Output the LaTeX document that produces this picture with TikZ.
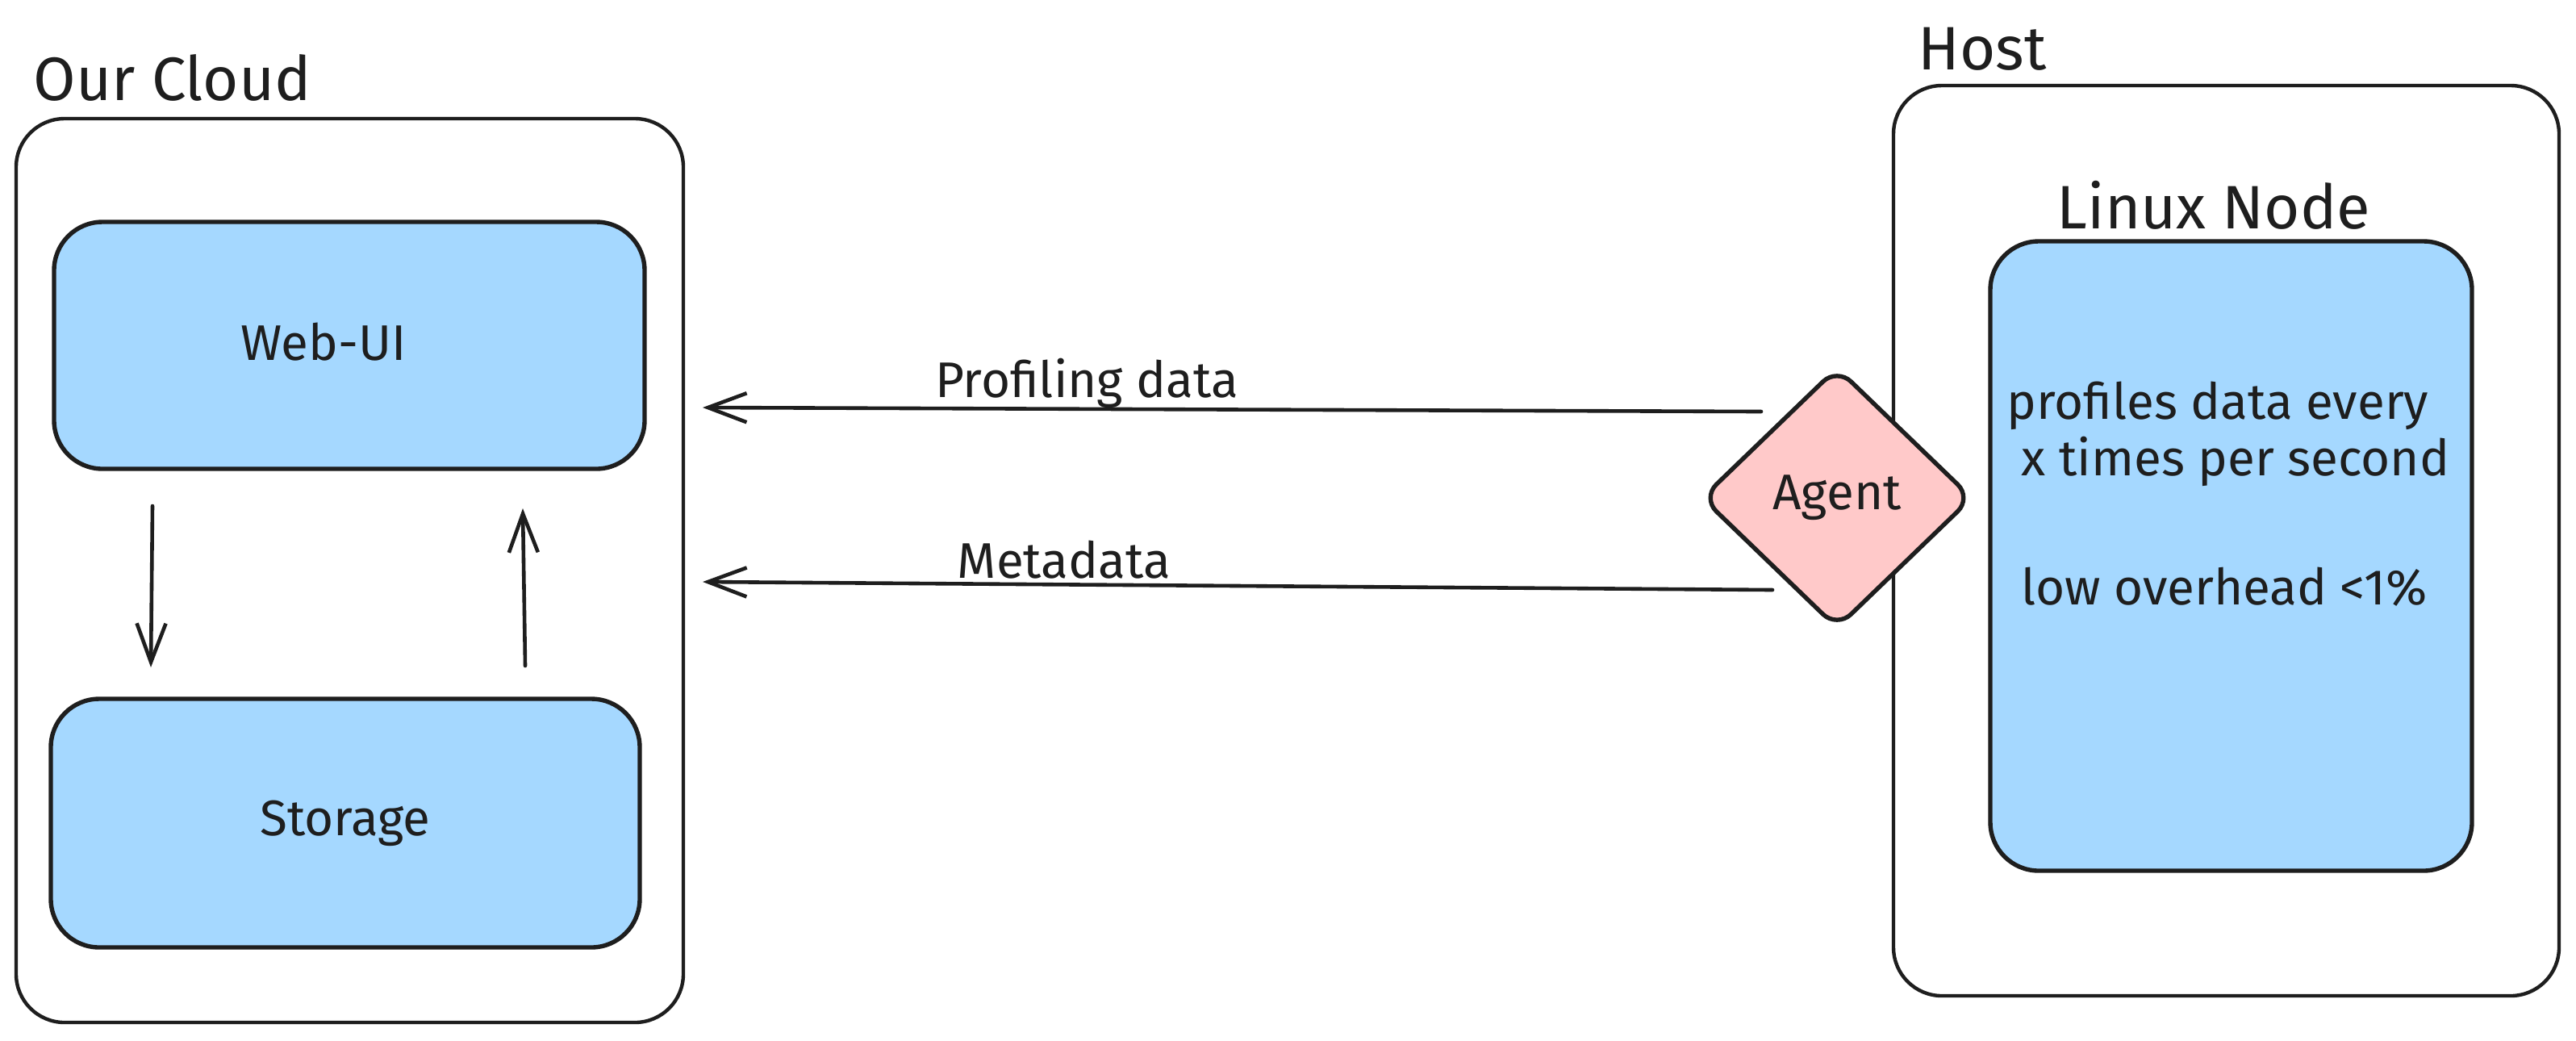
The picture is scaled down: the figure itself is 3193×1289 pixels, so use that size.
\documentclass[tikz,border=0pt]{standalone}
\usepackage{fontspec}
\setmainfont{Fira Sans}
\usetikzlibrary{arrows.meta,shapes.geometric}
\definecolor{ink}{HTML}{1E1E1E}
\definecolor{boxblue}{HTML}{A5D8FF}
\definecolor{agentpink}{HTML}{FFC9C9}
\begin{document}
\begin{tikzpicture}[x=0.25pt,y=-0.25pt,
  container/.style={draw=ink,line width=1.1pt,rounded corners=15pt,fill=white,inner sep=0pt},
  bluebox/.style={draw=ink,line width=1.35pt,rounded corners=15pt,fill=boxblue,text=ink,inner sep=0pt,font=\fontsize{15.5}{18}\selectfont},
  titletext/.style={text=ink,font=\fontsize{19}{22}\selectfont,inner sep=0pt},
  lbl/.style={text=ink,font=\fontsize{15.5}{18}\selectfont,inner sep=0pt},
  arr/.style={draw=ink,line width=1.15pt,line cap=round,-{Straight Barb[length=12pt,width=9pt,line width=1.15pt]}},
  agentshape/.style={shape=diamond,draw=ink,line width=1.35pt,rounded corners=6pt,fill=agentpink,text=ink,inner sep=0pt,font=\fontsize{15.5}{18}\selectfont}
  ]
\useasboundingbox[fill=white] (0,0) rectangle (3193,1289);

% Our Cloud
\node[titletext,anchor=base west] (cloudtitle) at (41,124) {Our Cloud};
\node[container,minimum width=206.75pt,minimum height=280pt] (cloud) at (433.5,707) {};
\node[bluebox,minimum width=183pt,minimum height=76.5pt] (webui) at (433,428) {};
\node[lbl] (webuitext) at (401,424) {Web-UI};
\node[bluebox,minimum width=182.5pt,minimum height=77pt] (storage) at (428,1020) {Storage};

\coordinate (downstart) at (189,627);
\coordinate (downend) at (187,827);
\coordinate (upstart) at (651,825);
\coordinate (upend) at (648,630);
\draw[arr] (downstart) -- (downend);
\draw[arr] (upstart) -- (upend);

% Host
\node[titletext,anchor=base west] (hosttitle) at (2377,86) {Host};
\node[container,minimum width=206.25pt,minimum height=282pt] (host) at (2759.5,670) {};
\node[titletext,anchor=base west] (linuxtitle) at (2549,283) {Linux Node};
\node[bluebox,minimum width=149.25pt,minimum height=195pt] (linux) at (2765.5,689) {};
\node[lbl] (desc1) at (2749,503) {profiles data every};
\node[lbl] (desc2) at (2771,572) {x times per second};
\node[lbl] (desc3) at (2757,727) {low overhead <1\%};

% Agent
\node[agentshape,minimum width=84pt,minimum height=81pt] (agent) at (2277,617) {Agent};

% Connectors
\coordinate (pdstart) at (2183,510);
\coordinate (pdend) at (871,505);
\coordinate (mdstart) at (2197,731);
\coordinate (mdend) at (871,721);
\draw[arr] (pdstart) -- (pdend);
\draw[arr] (mdstart) -- (mdend);
\node[lbl] (pdlabel) at (1347,475) {Profiling data};
\node[lbl] (mdlabel) at (1319,694) {Metadata};
\end{tikzpicture}
\end{document}
